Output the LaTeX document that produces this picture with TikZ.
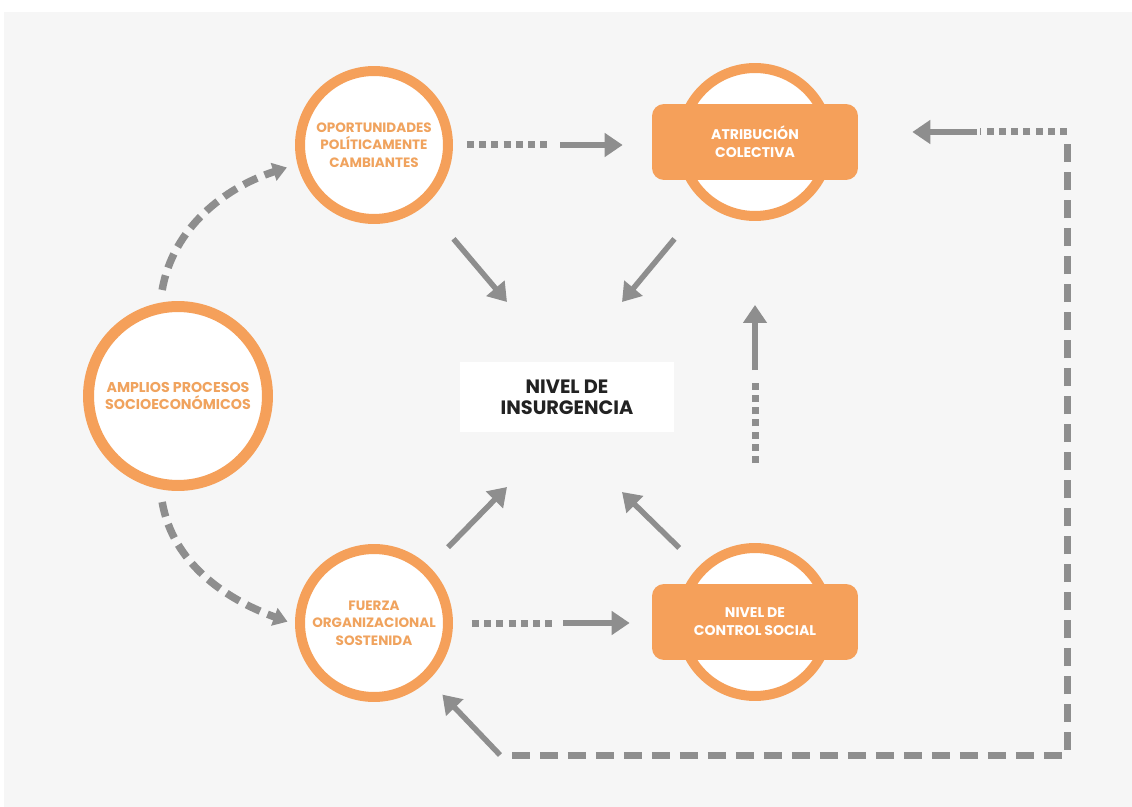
\documentclass[tikz,border=0pt]{standalone}
\usepackage{fontspec}
\setmainfont{Poppins}
\usetikzlibrary{arrows.meta}
\definecolor{ora}{HTML}{F5A05A}
\definecolor{oratxt}{HTML}{F0A35E}
\definecolor{arwgray}{HTML}{8E8E8E}
\definecolor{panel}{HTML}{F6F6F6}
\definecolor{instxt}{HTML}{222222}

\begin{document}
\begin{tikzpicture}[
  x=0.02cm, y=-0.02cm,
  ring/.style={circle, draw=ora, fill=white, line width=0.2cm, minimum size=2.96cm, inner sep=0pt, align=center, text=oratxt, font=\bfseries\fontsize{7.7}{10}\selectfont},
  bigring/.style={ring, line width=0.22cm, minimum size=3.58cm, font=\bfseries\fontsize{8.1}{9.4}\selectfont},
  rnode/.style={rectangle, rounded corners=0.24cm, fill=ora, minimum width=4.12cm, minimum height=1.52cm, align=center, text=white, font=\bfseries\fontsize{8}{10.2}\selectfont},
  inode/.style={rectangle, fill=white, minimum width=4.3cm, minimum height=1.4cm, align=center, text=instxt, font=\bfseries\fontsize{11}{11.8}\selectfont},
  arw/.style={-{Triangle[length=0.36cm,width=0.46cm]}, line width=0.11cm, draw=arwgray},
  dotln/.style={-, line width=0.14cm, draw=arwgray, dash pattern=on 0.14cm off 0.105cm},
  dashln/.style={-, line width=0.14cm, draw=arwgray, dash pattern=on 0.36cm off 0.2cm},
  curv/.style={-{Triangle[length=0.28cm,width=0.36cm]}, line width=0.15cm, draw=arwgray, dash pattern=on 0.3cm off 0.16cm}
  ]

\fill [white] (0,0) rectangle (1132,807);
\fill [panel] (4,12) rectangle (1132,807);
\useasboundingbox (0,0) rectangle (1132,807);

\node [ring] (opo) at (374,145) {OPORTUNIDADES\\POLÍTICAMENTE\\CAMBIANTES};
\node [ring] (fue) at (374,623) {FUERZA\\ORGANIZACIONAL\\SOSTENIDA};
\node [bigring] (amp) at (178,396) {AMPLIOS PROCESOS\\SOCIOECONÓMICOS};
\node [ring] (atrc) at (755,142) {};
\node [rnode] (atr) at (atrc) {ATRIBUCIÓN\\COLECTIVA};
\node [ring] (ctlc) at (755,622) {};
\node [rnode] (ctl) at (ctlc) {NIVEL DE\\CONTROL SOCIAL};
\node [inode] (ins) at (567,397) {NIVEL DE\\INSURGENCIA};

\coordinate (h1) at (558,145);
\coordinate (h2) at (559,623);
\coordinate (v1) at (755,374);
\coordinate (t1) at (507,302);
\coordinate (t2) at (622,302);
\coordinate (t3) at (507,487);
\coordinate (t4) at (622,492);
\coordinate (lb) at (500,755);
\coordinate (rb) at (1067,755);
\coordinate (rt) at (1067,132);
\coordinate (lt) at (980,132);

\draw [curv, shorten <=0.26cm, shorten >=0.22cm] (amp.101) to [out=80, in=198] (opo.194);
\draw [curv, shorten <=0.26cm, shorten >=0.16cm] (amp.-101) to [out=-80, in=160] (fue.181);

\draw [dotln, shorten <=0.28cm, shorten >=0.12cm] (opo.east) -- (h1);
\draw [arw, shorten <=0.04cm, shorten >=0.58cm] (h1) -- (atr.west |- h1);
\draw [dotln, shorten <=0.38cm, shorten >=0.08cm] (fue.east) -- (h2);
\draw [arw, shorten <=0.08cm, shorten >=0.44cm] (h2) -- (ctl.west |- h2);

\draw [dotln, shorten <=1.6cm, shorten >=0.08cm] (ctlc.north) -- (v1);
\draw [arw, shorten <=0.08cm, shorten >=1.68cm] (v1) -- (atrc.south);

\draw [arw, shorten <=0.88cm] (opo) -- (t1);
\draw [arw, shorten <=0.94cm] (atrc) -- (t2);
\draw [arw, shorten <=0.54cm] (fue) -- (t3);
\draw [arw, shorten <=0.54cm] (ctlc) -- (t4);

\draw [dashln, shorten <=0.24cm, shorten >=0.16cm] (lb) -- (rb) -- (rt);
\draw [dotln] (rt) -- (lt);
\draw [arw, shorten <=0.06cm, shorten >=1.08cm] (lt) -- (lt -| atr.east);
\draw [arw, shorten >=0.4cm] (lb) -- (fue);

\end{tikzpicture}
\end{document}
